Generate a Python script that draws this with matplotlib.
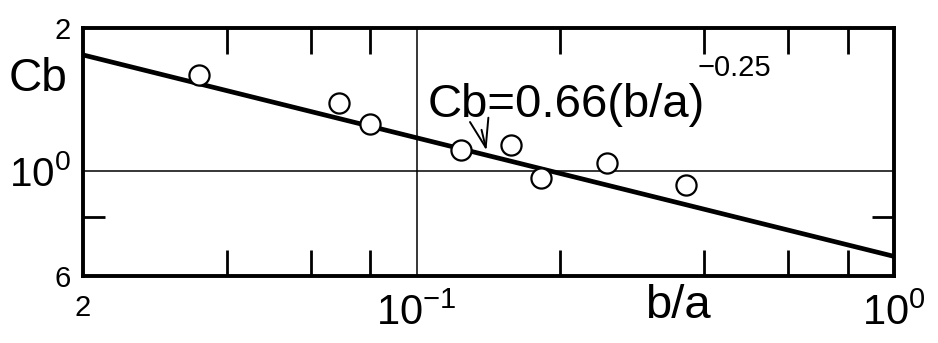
import matplotlib
matplotlib.use("Agg")
import matplotlib.pyplot as plt
from matplotlib.ticker import FixedLocator, FixedFormatter, NullFormatter
import numpy as np

FONT = ['Liberation Sans', 'DejaVu Sans']
plt.rcParams['font.family'] = FONT
plt.rcParams['mathtext.fontset'] = 'custom'
plt.rcParams['mathtext.rm'] = 'Liberation Sans'
plt.rcParams['mathtext.it'] = 'Liberation Sans'
plt.rcParams['mathtext.bf'] = 'Liberation Sans'
plt.rcParams['mathtext.sf'] = 'Liberation Sans'

# data
ba_values = [0.035, 0.0686, 0.0797, 0.124, 0.158, 0.1825, 0.25, 0.367]
cb_values = [1.59, 1.39, 1.255, 1.106, 1.133, 0.965, 1.039, 0.933]

fit_coef = 0.66
fit_exp = -0.25
fit_x = np.array([0.02, 1.0])

x_major = [0.02, 0.1, 1.0]
x_major_labels = ['2', r'$10^{-1}$', r'$10^{0}$']
x_minor = [0.04, 0.06, 0.08, 0.2, 0.4, 0.6, 0.8]
y_major = [0.6, 1.0, 2.0]
y_major_labels = ['6', r'$10^{0}$', '2']
y_minor = [0.8]

fig = plt.figure(figsize=(9.38, 3.43), dpi=100)
ax = fig.add_axes([0.0885, 0.1953, 0.8646, 0.7230])
ax.set_xscale('log')
ax.set_yscale('log')
ax.set_xlim(0.02, 1.0)
ax.set_ylim(0.6, 2.0)

for s in ax.spines.values():
    s.set_linewidth(2.8)
    s.set_color('black')

ax.axvline(0.1, color='black', lw=1.1, zorder=1)
ax.axhline(1.0, color='black', lw=1.1, zorder=1)

ax.plot(fit_x, fit_coef * fit_x ** fit_exp, color='black', lw=3.4, zorder=2,
        solid_capstyle='butt')
ax.plot(ba_values, cb_values, linestyle='none', marker='o', markersize=14.5,
        markerfacecolor='white', markeredgecolor='black', markeredgewidth=1.6,
        zorder=3)

ax.xaxis.set_major_locator(FixedLocator(x_major))
ax.xaxis.set_major_formatter(FixedFormatter(x_major_labels))
ax.xaxis.set_minor_locator(FixedLocator(x_minor))
ax.yaxis.set_major_locator(FixedLocator(y_major))
ax.yaxis.set_major_formatter(FixedFormatter(y_major_labels))
ax.yaxis.set_minor_locator(FixedLocator(y_minor))
ax.xaxis.set_minor_formatter(NullFormatter())
ax.yaxis.set_minor_formatter(NullFormatter())

ax.tick_params(axis='x', which='major', length=0, pad=13)
ax.tick_params(axis='y', which='major', length=0, pad=9)
ax.tick_params(axis='x', which='minor', direction='in', length=19, width=2.0,
               top=True, bottom=True)
ax.tick_params(axis='y', which='minor', direction='in', length=16, width=2.0,
               left=True, right=True)

for lab, size in zip(ax.get_xticklabels(), [21, 30, 30]):
    lab.set_fontsize(size)
for lab, size in zip(ax.get_yticklabels(), [21, 29, 21]):
    lab.set_fontsize(size)

ax.set_xlabel('b/a', fontsize=34)
ax.xaxis.set_label_coords(0.734, -0.121)
ax.xaxis.label.set_va('center')
ax.set_ylabel('Cb', fontsize=33, rotation=0)
ax.yaxis.set_label_coords(-0.0555, 0.794)
ax.yaxis.label.set_va('center')
ax.yaxis.label.set_ha('center')

arrow_x = 0.14
eq = ax.annotate('Cb=0.66(b/a)', xy=(arrow_x, fit_coef * arrow_x ** fit_exp + 0.025),
                 xycoords='data', xytext=(0.425, 0.641), textcoords='axes fraction',
                 fontsize=34, ha='left', va='baseline',
                 arrowprops=dict(arrowstyle='->,head_length=0.6,head_width=0.2',
                                 lw=1.4, color='black',
                                 shrinkA=0, shrinkB=0,
                                 relpos=(0.19, 0.05)))
ax.annotate('\u22120.25', xy=(1.0, 1.0), xycoords=eq, xytext=(-5, 11),
            textcoords='offset points', fontsize=21, ha='left', va='center')

fig.savefig('out.png', dpi=100)
